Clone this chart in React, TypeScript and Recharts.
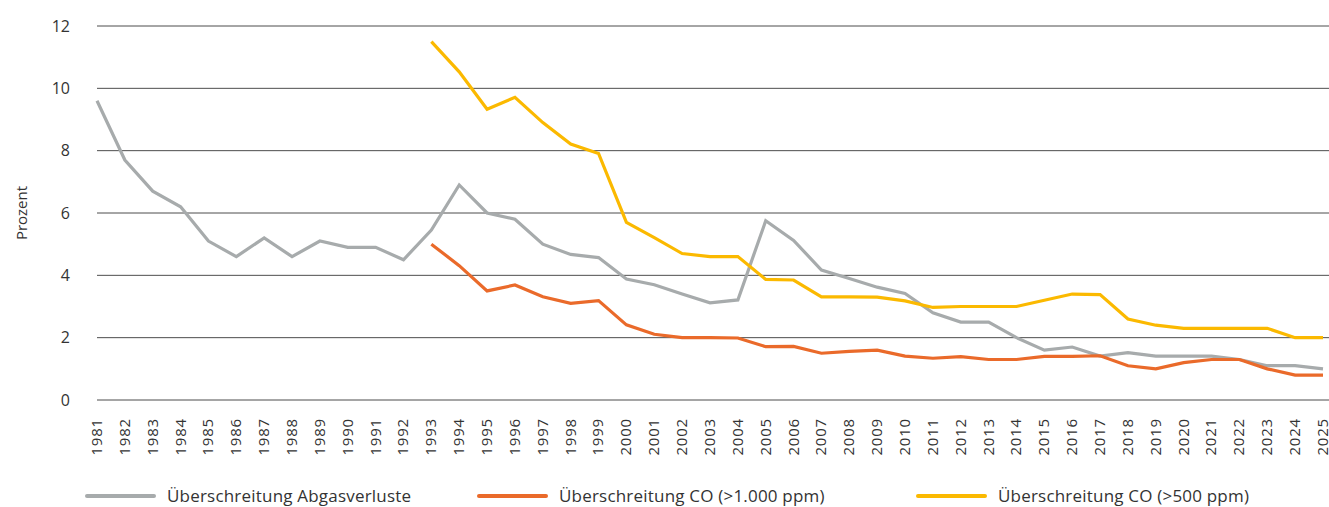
import { LineChart, Line, CartesianGrid, XAxis, YAxis, Legend } from "recharts"

const years = [
  "1981", "1982", "1983", "1984", "1985", "1986", "1987", "1988", "1989", "1990",
  "1991", "1992", "1993", "1994", "1995", "1996", "1997", "1998", "1999", "2000",
  "2001", "2002", "2003", "2004", "2005", "2006", "2007", "2008", "2009", "2010",
  "2011", "2012", "2013", "2014", "2015", "2016", "2017", "2018", "2019", "2020",
  "2021", "2022", "2023", "2024", "2025",
]

const abgasverluste = [
  9.6, 7.7, 6.7, 6.2, 5.1, 4.6, 5.2, 4.6, 5.1, 4.9,
  4.9, 4.5, 5.45, 6.9, 6.0, 5.8, 5.0, 4.67, 4.57, 3.88,
  3.7, 3.4, 3.12, 3.21, 5.75, 5.12, 4.17, 3.9, 3.62, 3.42,
  2.8, 2.5, 2.5, 2.0, 1.6, 1.7, 1.41, 1.52, 1.41, 1.41,
  1.41, 1.3, 1.1, 1.1, 1.0,
]

const co1000 = [
  null, null, null, null, null, null, null, null, null, null,
  null, null, 5.0, 4.31, 3.5, 3.69, 3.31, 3.1, 3.19, 2.41,
  2.11, 2.0, 2.0, 1.99, 1.71, 1.72, 1.5, 1.56, 1.6, 1.41,
  1.34, 1.39, 1.3, 1.3, 1.4, 1.4, 1.42, 1.1, 1.0, 1.2,
  1.3, 1.3, 1.0, 0.8, 0.8,
]

const co500 = [
  null, null, null, null, null, null, null, null, null, null,
  null, null, 11.5, 10.53, 9.33, 9.71, 8.9, 8.21, 7.91, 5.7,
  5.21, 4.7, 4.6, 4.6, 3.87, 3.85, 3.31, 3.31, 3.3, 3.18,
  2.97, 3.0, 3.0, 3.0, 3.2, 3.4, 3.38, 2.6, 2.4, 2.3,
  2.3, 2.3, 2.3, 2.0, 2.0,
]

const yTicks = [0, 2, 4, 6, 8, 10, 12]

const data = years.map((year, i) => ({
  year,
  abgas: abgasverluste[i],
  co1000: co1000[i],
  co500: co500[i],
}))

const font = "'Open Sans', 'Noto Sans', sans-serif"
const textColor = "#333333"

// left edge of each legend entry
const legendLefts = [85, 477, 916]

function YearTick(props: any) {
  const { x, y, payload } = props
  return (
    <text
      x={x}
      y={y}
      dy="0.33em"
      transform={`rotate(-90 ${x} ${y})`}
      textAnchor="end"
      fill={textColor}
      fontSize={15}
      letterSpacing={0.8}
      fontFamily={font}
    >
      {payload.value}
    </text>
  )
}

function YLabel(props: any) {
  const vb = props.viewBox
  const cx = vb.x + 21
  const cy = vb.y + vb.height / 2
  return (
    <text
      x={cx}
      y={cy}
      transform={`rotate(-90 ${cx} ${cy})`}
      textAnchor="middle"
      dominantBaseline="central"
      fill={textColor}
      fontSize={15}
      fontFamily={font}
    >
      Prozent
    </text>
  )
}

function LegendContent(props: any) {
  const items = props.payload || []
  return (
    <div style={{ position: "relative", height: 24, fontFamily: font }}>
      {items.map((item: any, i: number) => (
        <div
          key={item.value}
          style={{
            position: "absolute",
            left: legendLefts[i],
            top: 0,
            display: "flex",
            alignItems: "center",
            height: 24,
            whiteSpace: "nowrap",
          }}
        >
          <span
            style={{
              display: "inline-block",
              width: 71,
              height: 4,
              borderRadius: 2,
              background: item.color,
              marginRight: 11,
            }}
          />
          <span style={{ fontSize: 17, letterSpacing: 0.2, color: textColor, lineHeight: "24px" }}>
            {item.value}
          </span>
        </div>
      ))}
    </div>
  )
}

export default function App() {
  return (
    <div style={{ position: "absolute", left: 0, top: 0 }}>
      <LineChart
        width={1329}
        height={507}
        data={data}
        margin={{ top: 26, right: 0, bottom: 0, left: 0 }}
      >
        <CartesianGrid vertical={false} stroke="#4d4d4d" strokeWidth={1} />
        <XAxis
          dataKey="year"
          height={107}
          interval={0}
          axisLine={false}
          tickLine={false}
          tickSize={0}
          tickMargin={18}
          padding={{ left: 0, right: 6 }}
          tick={<YearTick />}
        />
        <YAxis
          width={97}
          domain={[0, 12]}
          ticks={yTicks}
          axisLine={false}
          tickLine={false}
          tickSize={0}
          tickMargin={27}
          tick={{ fill: textColor, fontSize: 16, fontFamily: font }}
          label={{ content: <YLabel /> }}
        />
        <Legend
          layout="horizontal"
          verticalAlign="middle"
          align="center"
          wrapperStyle={{ left: 0, top: 484, width: 1329 }}
          content={<LegendContent />}
        />
        <Line
          type="linear"
          dataKey="abgas"
          name="Überschreitung Abgasverluste"
          stroke="#a7abac"
          strokeWidth={3.2}
          dot={false}
          isAnimationActive={false}
        />
        <Line
          type="linear"
          dataKey="co1000"
          name="Überschreitung CO (>1.000 ppm)"
          stroke="#ea6a2a"
          strokeWidth={3.2}
          dot={false}
          isAnimationActive={false}
        />
        <Line
          type="linear"
          dataKey="co500"
          name="Überschreitung CO (>500 ppm)"
          stroke="#fbb900"
          strokeWidth={3.2}
          dot={false}
          isAnimationActive={false}
        />
      </LineChart>
    </div>
  )
}
